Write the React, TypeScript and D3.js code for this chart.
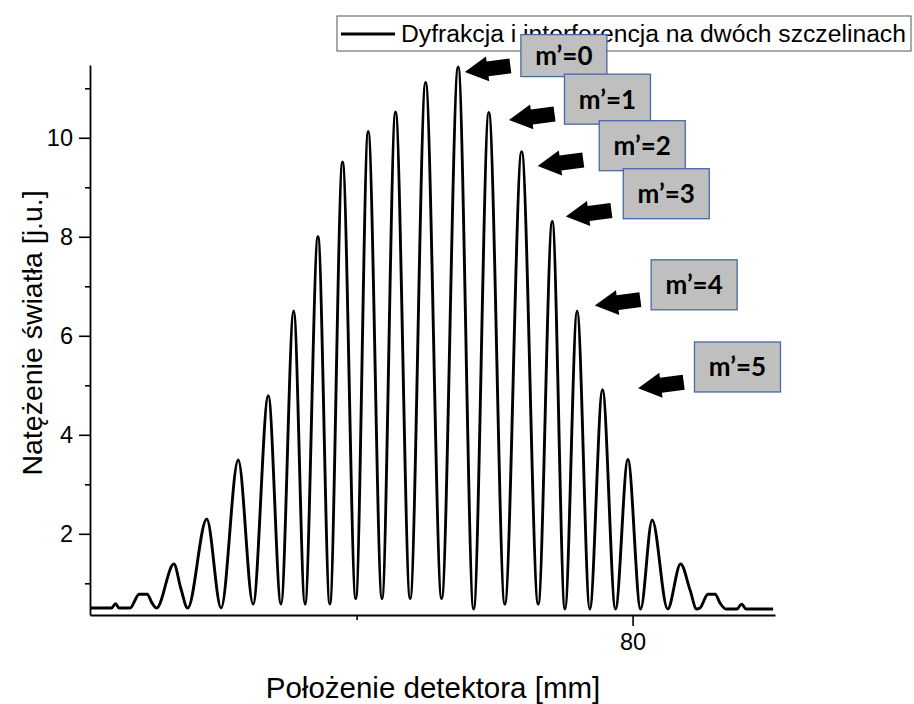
import React, { useEffect, useRef } from 'react';
import * as d3 from 'd3';

// detector position [mm] and intensity [a.u.]
const positions = [
  60.34, 61.12, 61.27, 61.39, 61.79, 62.12, 62.41, 62.59, 62.75, 63.38, 63.63, 63.88,
  64.57, 65.09, 65.71, 66.25, 66.8, 67.26, 67.72, 68.13, 68.6, 69.03, 69.49, 69.97,
  70.42, 70.92, 71.41, 71.94, 72.5, 73.08, 73.68, 74.24, 74.79, 75.37, 75.98, 76.58,
  77.09, 77.55, 77.99, 78.45, 78.91, 79.38, 79.83, 80.29, 80.71, 81.27, 81.74, 82.08,
  82.32, 82.44, 82.73, 82.99, 83.17, 83.38, 83.78, 83.95, 84.11, 85.09,
];
const intensity = [
  0.5, 0.5, 0.59, 0.5, 0.5, 0.78, 0.78, 0.6, 0.5, 1.39, 0.9, 0.5,
  2.3, 0.5, 3.49, 0.58, 4.79, 0.58, 6.5, 0.58, 8.0, 0.58, 9.51, 0.69,
  10.13, 0.69, 10.52, 0.69, 11.12, 0.69, 11.43, 0.48, 10.51, 0.58, 9.72, 0.58,
  8.31, 0.48, 6.5, 0.48, 4.91, 0.48, 3.5, 0.48, 2.28, 0.48, 1.39, 0.87,
  0.48, 0.5, 0.78, 0.78, 0.6, 0.48, 0.48, 0.58, 0.48, 0.48,
];

const yMajor = [2, 4, 6, 8, 10];
const yMinor = [1, 3, 5, 7, 9, 11];
const xMajor = [80];
const xMinor = [70];

const seriesName = 'Dyfrakcja i interferencja na dwóch szczelinach';
const xTitle = 'Położenie detektora [mm]';
const yTitle = 'Natężenie światła [j.u.]';

// order labels: box centre and arrow tip, in data units
const orderLabels = ['m’=0', 'm’=1', 'm’=2', 'm’=3', 'm’=4', 'm’=5'];
const boxX = [77.51, 79.09, 80.35, 81.22, 82.23, 83.8];
const boxY = [11.66, 10.78, 9.84, 8.87, 7.03, 5.37];
const tipX = [73.92, 75.52, 76.56, 77.58, 78.63, 80.2];
const tipY = [11.33, 10.36, 9.43, 8.41, 6.61, 4.94];

const W = 914;
const H = 704;

const App = () => {
  const svgRef = useRef<SVGSVGElement>(null);

  useEffect(() => {
    const svg = d3.select(svgRef.current);
    svg.selectAll('*').remove();

    const x = d3.scaleLinear().domain([60.34, 85.16]).range([90, 775]);
    const y = d3.scaleLinear().domain([0.36, 11.47]).range([615, 65]);

    const data = positions.map((p, i) => ({ p, v: intensity[i] }));

    const line = d3
      .line<{ p: number; v: number }>()
      .x((d) => x(d.p))
      .y((d) => y(d.v))
      .curve(d3.curveMonotoneX);

    svg
      .append('path')
      .datum(data)
      .attr('d', line)
      .attr('fill', 'none')
      .attr('stroke', '#000')
      .attr('stroke-width', 2.9)
      .attr('stroke-linejoin', 'round');

    // axes
    const font = '"Liberation Sans", Arial, sans-serif';
    const styleAxis = (g) => {
      g.select('.domain').attr('stroke', '#000').attr('stroke-width', 1.8);
      g.selectAll('.tick line').attr('stroke', '#000').attr('stroke-width', 1.6);
      g.selectAll('.tick text')
        .attr('fill', '#000')
        .style('font-family', font)
        .style('font-size', '23.5px');
    };

    svg
      .append('g')
      .attr('transform', 'translate(90,0)')
      .call(d3.axisLeft(y).tickValues(yMajor).tickSize(11).tickSizeOuter(0).tickPadding(6))
      .call(styleAxis);
    svg
      .append('g')
      .attr('transform', 'translate(90,0)')
      .call(d3.axisLeft(y).tickValues(yMinor).tickSize(5).tickFormat(() => ''))
      .call(styleAxis)
      .select('.domain')
      .remove();

    svg
      .append('g')
      .attr('transform', 'translate(0,615)')
      .call(d3.axisBottom(x).tickValues(xMajor).tickSize(11).tickSizeOuter(0).tickPadding(7))
      .call(styleAxis);
    svg
      .append('g')
      .attr('transform', 'translate(0,615)')
      .call(d3.axisBottom(x).tickValues(xMinor).tickSize(5).tickFormat(() => ''))
      .call(styleAxis)
      .select('.domain')
      .remove();

    svg
      .append('text')
      .attr('x', 433)
      .attr('y', 698)
      .attr('text-anchor', 'middle')
      .style('font-family', font)
      .style('font-size', '29.5px')
      .text(xTitle);

    svg
      .append('text')
      .attr('transform', 'translate(42,333) rotate(-90)')
      .attr('text-anchor', 'middle')
      .style('font-family', font)
      .style('font-size', '28.5px')
      .text(yTitle);

    // legend
    const legend = svg.append('g');
    legend
      .append('rect')
      .attr('x', 337)
      .attr('y', 16)
      .attr('width', 574)
      .attr('height', 35)
      .attr('fill', '#fff')
      .attr('stroke', '#555')
      .attr('stroke-width', 1);
    legend
      .append('line')
      .attr('x1', 341)
      .attr('x2', 395)
      .attr('y1', 34)
      .attr('y2', 34)
      .attr('stroke', '#000')
      .attr('stroke-width', 2.8);
    legend
      .append('text')
      .attr('x', 401)
      .attr('y', 42)
      .style('font-family', font)
      .style('font-size', '24.7px')
      .text(seriesName);

    // annotations
    const arrowShape = [
      [0, 0], [23, -12.5], [23, -7.5], [46, -7.5], [46, 7.5], [23, 7.5], [23, 12.5],
    ];
    orderLabels.forEach((label, i) => {
      svg
        .append('polygon')
        .attr('points', arrowShape.map((p) => p.join(',')).join(' '))
        .attr('transform', `translate(${x(tipX[i])},${y(tipY[i])}) rotate(-7.5)`)
        .attr('fill', '#000');

      const bw = 86;
      const bh = i === 0 ? 42 : 50;
      const cx = x(boxX[i]);
      const cy = y(boxY[i]);
      svg
        .append('rect')
        .attr('x', cx - bw / 2)
        .attr('y', cy - bh / 2)
        .attr('width', bw)
        .attr('height', bh)
        .attr('fill', '#bfbfbf')
        .attr('stroke', '#4a68a6')
        .attr('stroke-width', 1.3);
      svg
        .append('text')
        .attr('x', cx)
        .attr('y', cy)
        .attr('dy', '0.36em')
        .attr('text-anchor', 'middle')
        .style('font-family', 'Lato, "Open Sans", sans-serif')
        .style('font-weight', 'bold')
        .style('font-size', '26px')
        .text(label);
    });
  }, []);

  return (
    <svg
      ref={svgRef}
      width={W}
      height={H}
      style={{ position: 'absolute', left: 0, top: 0, background: '#fff' }}
    ></svg>
  );
};

export default App;
